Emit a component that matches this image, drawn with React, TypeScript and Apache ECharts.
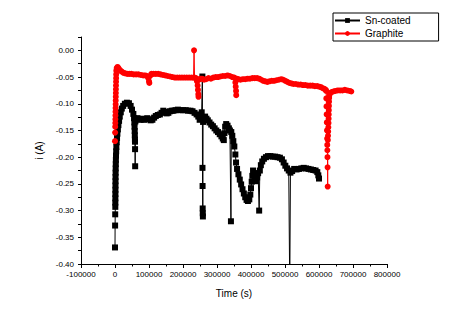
import React, { useEffect, useRef } from "react";
import * as echarts from "echarts";

const xTicks = { min: -100000, max: 800000, interval: 100000 };
const yTicks = { min: -0.4, max: 0.025, interval: 0.025 };

const snCoated: [number, number][] = [
  [0, -0.369], [300, -0.328], [600, -0.307], [900, -0.293], [1000, -0.285], [1100, -0.277],
  [1200, -0.269], [1300, -0.261], [1400, -0.253], [1500, -0.245], [1600, -0.237], [1800, -0.229],
  [2000, -0.221], [2300, -0.213], [2600, -0.205], [3000, -0.197], [3500, -0.189], [4000, -0.181],
  [5000, -0.172], [6000, -0.164], [7000, -0.156], [8500, -0.148], [10000, -0.14], [12000, -0.132],
  [14000, -0.124], [17000, -0.116], [20000, -0.109], [24000, -0.104], [29000, -0.1], [35000, -0.098],
  [41000, -0.099], [46000, -0.104], [50000, -0.111], [54000, -0.119], [56000, -0.127], [57000, -0.135],
  [57500, -0.143], [58000, -0.151], [58300, -0.159], [58600, -0.167], [58800, -0.171], [59000, -0.185],
  [59300, -0.217], [60000, -0.133], [62000, -0.128], [66000, -0.127], [70000, -0.129], [75000, -0.13],
  [80000, -0.128], [85000, -0.13], [90000, -0.129], [95000, -0.127], [100000, -0.129], [105000, -0.131],
  [110000, -0.13], [115000, -0.126], [120000, -0.123], [126000, -0.121], [132000, -0.12], [137000, -0.117],
  [142000, -0.113], [147000, -0.115], [152000, -0.118], [157000, -0.117], [162000, -0.114], [167000, -0.113],
  [172000, -0.113], [178000, -0.112], [185000, -0.111], [192000, -0.112], [200000, -0.112], [208000, -0.112],
  [215000, -0.113], [222000, -0.113], [228000, -0.114], [234000, -0.117], [240000, -0.12], [245000, -0.124],
  [249000, -0.13], [252000, -0.122], [255000, -0.116], [257000, -0.049], [257300, -0.22], [257600, -0.254],
  [257900, -0.296], [258200, -0.305], [258500, -0.311], [259000, -0.134], [261000, -0.126], [265000, -0.124],
  [269000, -0.128], [273000, -0.131], [278000, -0.135], [283000, -0.139], [288000, -0.142], [293000, -0.146],
  [298000, -0.15], [303000, -0.153], [308000, -0.157], [313000, -0.161], [317000, -0.165], [320000, -0.168],
  [322000, -0.155], [324000, -0.143], [327000, -0.138], [331000, -0.141], [335000, -0.146], [338000, -0.15],
  [341000, -0.32], [342000, -0.153], [345000, -0.16], [348000, -0.17], [351000, -0.18], [354000, -0.195],
  [356000, -0.21], [359000, -0.222], [363000, -0.232], [367000, -0.242], [371000, -0.251], [375000, -0.26],
  [379000, -0.268], [383000, -0.275], [387000, -0.28], [391000, -0.282], [395000, -0.279], [398000, -0.27],
  [400000, -0.258], [402000, -0.246], [404000, -0.235], [406000, -0.225], [409000, -0.23], [412000, -0.238],
  [415000, -0.245], [418000, -0.238], [421000, -0.23], [424000, -0.3], [426000, -0.225], [429000, -0.215],
  [433000, -0.208], [438000, -0.203], [444000, -0.2], [450000, -0.198], [457000, -0.198], [464000, -0.199],
  [471000, -0.199], [478000, -0.2], [485000, -0.201], [491000, -0.204], [496000, -0.21], [501000, -0.216],
  [506000, -0.221], [511000, -0.225], [514000, -0.45], [516000, -0.229], [521000, -0.226], [527000, -0.222],
  [534000, -0.223], [541000, -0.222], [548000, -0.221], [555000, -0.22], [562000, -0.221], [569000, -0.222],
  [576000, -0.223], [583000, -0.224], [590000, -0.225], [595000, -0.228], [598000, -0.234], [600000, -0.24],
];

const graphite: [number, number][] = [
  [0, -0.17], [300, -0.154], [600, -0.143], [900, -0.136], [1100, -0.129], [1300, -0.122],
  [1500, -0.115], [1700, -0.108], [1900, -0.101], [2100, -0.094], [2300, -0.087], [2500, -0.08],
  [2700, -0.073], [2900, -0.066], [3100, -0.059], [3300, -0.052], [3500, -0.045], [3800, -0.038],
  [5000, -0.033], [7500, -0.031], [10000, -0.033], [13000, -0.036], [16000, -0.038], [20000, -0.04],
  [25000, -0.042], [30000, -0.043], [36000, -0.044], [42000, -0.044], [48000, -0.044], [55000, -0.045],
  [62000, -0.045], [69000, -0.045], [76000, -0.046], [83000, -0.047], [89000, -0.047], [94000, -0.048],
  [98000, -0.052], [100000, -0.058], [101000, -0.061], [103000, -0.048], [107000, -0.044], [113000, -0.044],
  [120000, -0.044], [127000, -0.044], [134000, -0.045], [141000, -0.046], [148000, -0.047], [155000, -0.048],
  [162000, -0.049], [169000, -0.05], [176000, -0.051], [183000, -0.051], [190000, -0.051], [197000, -0.051],
  [204000, -0.051], [211000, -0.051], [218000, -0.051], [225000, -0.051], [231000, -0.051], [232500, 0.0],
  [234000, -0.051], [238000, -0.052], [241000, -0.058], [243000, -0.066], [244000, -0.074], [245000, -0.082],
  [245500, -0.087], [247000, -0.055], [251000, -0.053], [256000, -0.053], [262000, -0.055], [268000, -0.054],
  [275000, -0.052], [282000, -0.053], [289000, -0.051], [296000, -0.05], [303000, -0.05], [310000, -0.049],
  [317000, -0.048], [324000, -0.048], [331000, -0.047], [338000, -0.048], [345000, -0.05], [351000, -0.051],
  [354000, -0.06], [355000, -0.068], [356000, -0.076], [356500, -0.084], [358000, -0.053], [363000, -0.054],
  [369000, -0.055], [376000, -0.054], [383000, -0.054], [390000, -0.053], [397000, -0.053], [404000, -0.052],
  [411000, -0.052], [418000, -0.052], [424000, -0.053], [430000, -0.055], [436000, -0.057], [442000, -0.058],
  [448000, -0.059], [454000, -0.058], [461000, -0.057], [468000, -0.057], [475000, -0.056], [482000, -0.055],
  [489000, -0.054], [495000, -0.055], [501000, -0.057], [507000, -0.059], [513000, -0.061], [519000, -0.062],
  [525000, -0.063], [532000, -0.063], [539000, -0.064], [546000, -0.064], [553000, -0.065], [560000, -0.065],
  [567000, -0.066], [574000, -0.066], [581000, -0.066], [588000, -0.067], [595000, -0.067], [601000, -0.068],
  [606000, -0.069], [611000, -0.071], [616000, -0.072], [620000, -0.074], [621000, -0.076], [621500, -0.09],
  [622000, -0.105], [622500, -0.12], [623000, -0.135], [623500, -0.15], [624000, -0.165], [624300, -0.177],
  [624600, -0.187], [624900, -0.2], [625200, -0.219], [625500, -0.255], [626000, -0.168], [626500, -0.16],
  [627000, -0.152], [627500, -0.144], [628000, -0.136], [628300, -0.128], [628600, -0.12], [628900, -0.112],
  [629200, -0.104], [629500, -0.096], [629800, -0.089], [630500, -0.084], [633000, -0.08], [637000, -0.078],
  [642000, -0.077], [648000, -0.076], [655000, -0.075], [662000, -0.075], [669000, -0.075], [676000, -0.074],
  [683000, -0.075], [690000, -0.076], [695000, -0.077],
];

const seriesNames = ["Sn-coated", "Graphite"];
const xName = "Time (s)";
const yName = "i (A)";

export default function App() {
  const ref = useRef<HTMLDivElement>(null);
  useEffect(() => {
    if (!ref.current) return;
    const chart = echarts.init(ref.current, null, { renderer: "svg" });
    const font = "Liberation Sans, Arial, sans-serif";
    chart.setOption({
      animation: false,
      backgroundColor: "#ffffff",
      grid: { left: 81, right: 62, top: 37, bottom: 53 },
      legend: {
        data: seriesNames,
        orient: "vertical",
        left: 333,
        top: 13,
        itemWidth: 25,
        itemHeight: 6,
        itemGap: 2,
        padding: [2, 28, 2, 1],
        borderColor: "#000",
        borderWidth: 1,
        borderRadius: 0,
        textStyle: { color: "#000", fontSize: 10, fontFamily: font, lineHeight: 11 },
      },
      xAxis: {
        type: "value",
        min: xTicks.min,
        max: xTicks.max,
        interval: xTicks.interval,
        name: xName,
        nameLocation: "middle",
        nameGap: 24,
        nameTextStyle: { color: "#000", fontSize: 10, fontFamily: font },
        axisLine: { show: true, onZero: false, lineStyle: { color: "#000", width: 1 } },
        axisTick: { show: true, length: 4, lineStyle: { color: "#000" } },
        minorTick: { show: true, splitNumber: 2, length: 2.5, lineStyle: { color: "#000" } },
        splitLine: { show: false },
        axisLabel: {
          color: "#000",
          fontSize: 8,
          fontFamily: font,
          margin: 6,
          formatter: (v: number) => String(Math.round(v)),
        },
      },
      yAxis: {
        type: "value",
        min: yTicks.min,
        max: yTicks.max,
        interval: yTicks.interval,
        name: yName,
        nameLocation: "middle",
        nameGap: 35,
        nameTextStyle: { color: "#000", fontSize: 10, fontFamily: font },
        axisLine: { show: true, onZero: false, lineStyle: { color: "#000", width: 1 } },
        axisTick: { show: true, length: 3, lineStyle: { color: "#000" } },
        splitLine: { show: false },
        axisLabel: {
          color: "#000",
          fontSize: 8,
          fontFamily: font,
          margin: 7,
          formatter: (v: number) => {
            const k = Math.round(v * 1000);
            if (k % 50 !== 0) return "";
            return (k / 1000).toFixed(2);
          },
        },
      },
      series: [
        {
          name: seriesNames[0],
          type: "line",
          data: snCoated,
          symbol: "rect",
          symbolSize: 6,
          showSymbol: true,
          showAllSymbol: true,
          clip: true,
          itemStyle: { color: "#000000" },
          lineStyle: { color: "#000000", width: 1 },
        },
        {
          name: seriesNames[1],
          type: "line",
          data: graphite,
          symbol: "circle",
          symbolSize: 6,
          showSymbol: true,
          showAllSymbol: true,
          clip: true,
          itemStyle: { color: "#ff0000" },
          lineStyle: { color: "#ff0000", width: 1 },
        },
      ],
    });
    return () => chart.dispose();
  }, []);
  return (
    <div
      ref={ref}
      style={{ position: "fixed", left: 0, top: 0, width: 449, height: 317 }}
    />
  );
}
